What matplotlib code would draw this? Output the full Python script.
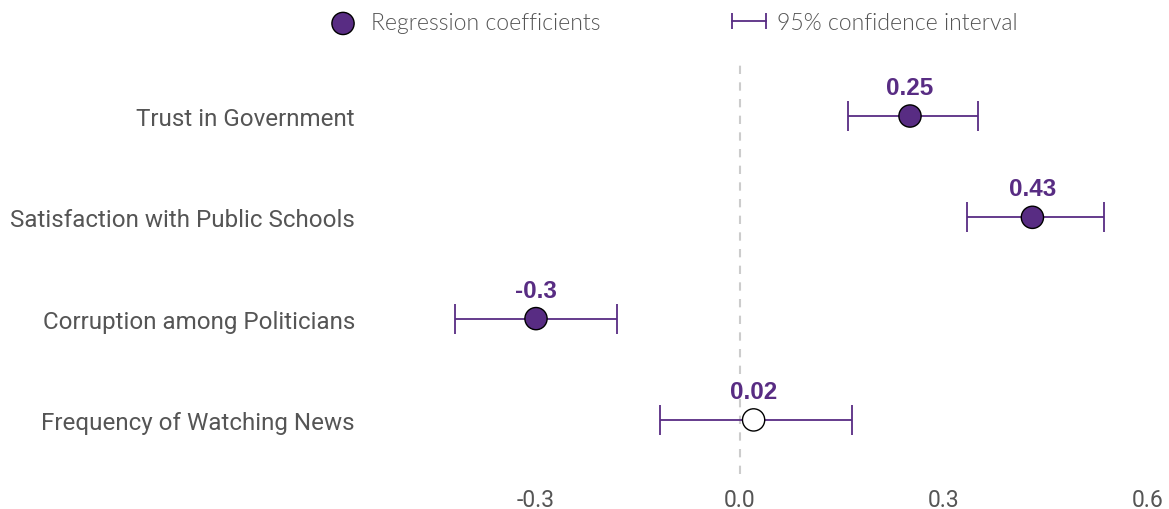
import matplotlib
matplotlib.use("Agg")
import matplotlib.pyplot as plt
from matplotlib.lines import Line2D
from matplotlib import font_manager as fm

categories = ["Trust in Government", "Satisfaction with Public Schools",
              "Corruption among Politicians", "Frequency of Watching News"]
coefs = [0.25, 0.43, -0.30, 0.02]
ci_low = [0.159, 0.334, -0.419, -0.118]
ci_high = [0.350, 0.535, -0.181, 0.165]
significant = [True, True, True, False]
xticks = [-0.3, 0.0, 0.3, 0.6]
xticklabels = ["-0.3", "0.0", "0.3", "0.6"]

PURPLE = "#582c83"
W, H = 1169, 510
fig = plt.figure(figsize=(W / 100, H / 100), dpi=100)
x0, x1 = -0.55, 0.62
left_px = 740 + x0 * 680
right_px = 740 + x1 * 680
ax = fig.add_axes([left_px / W, 35 / H, (right_px - left_px) / W, 415 / H])

y = list(range(len(categories)))
ax.axvline(0, color="#cccccc", lw=1.5, ls=(0, (4, 4)), zorder=1)

xerr = [[c - l for c, l in zip(coefs, ci_low)], [h - c for c, h in zip(coefs, ci_high)]]
ax.errorbar(coefs, y, xerr=xerr, fmt="none", ecolor=PURPLE, elinewidth=1.3,
            capsize=10.8, capthick=1.3, zorder=2)
faces = [PURPLE if s else "white" for s in significant]
sc = ax.scatter(coefs, y, s=16 ** 2, c=faces, edgecolors="black", linewidths=1.0,
                zorder=3, label="Regression coefficients")

for c, yi in zip(coefs, y):
    ax.annotate(f"{c:g}", (c, yi), xytext=(0, 15.8), textcoords="offset points",
                ha="center", va="baseline", fontsize=17.5, fontweight="bold",
                color=PURPLE, family="Liberation Sans")

ax.set_xlim(x0, x1)
ax.set_ylim(3.534, -0.563)
ax.set_yticks(y)
ax.set_yticklabels(categories, family="Roboto", fontsize=17.4, color="#555555")
ax.set_xticks(xticks)
ax.set_xticklabels(xticklabels, family="Roboto", fontsize=16.5, color="#555555")
ax.tick_params(axis="y", length=0, pad=8)
ax.tick_params(axis="x", length=0, pad=10)
for s in ax.spines.values():
    s.set_visible(False)

light = [f.fname for f in fm.fontManager.ttflist if f.fname.endswith("Lato-Light.ttf")]
if light:
    lprop = fm.FontProperties(fname=light[0], size=16.6)
else:
    lprop = fm.FontProperties(family="Lato", weight="normal", size=16.6)

ci_handle = Line2D([], [], color=PURPLE, lw=1.3, marker="|", markersize=11,
                   markeredgewidth=1.3, label="95% confidence interval")
leg = fig.legend(handles=[sc, ci_handle], loc="center", bbox_to_anchor=(668 / W, 1 - 24 / H),
                 ncol=2, frameon=False, columnspacing=5.4, handletextpad=0.15,
                 handlelength=2.1, numpoints=2, scatterpoints=1, prop=lprop)
for t in leg.get_texts():
    t.set_color("#555555")

fig.savefig("out.png", dpi=100)
